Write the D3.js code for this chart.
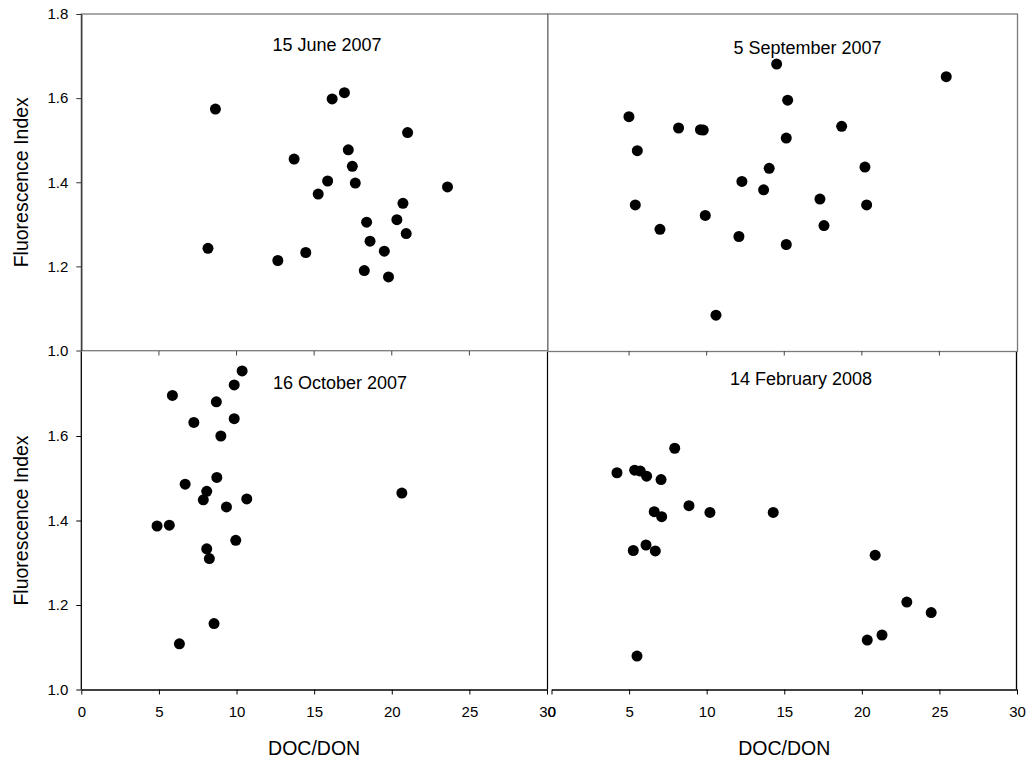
<!DOCTYPE html>
<html>
<head>
<meta charset="utf-8">
<script src="https://cdn.jsdelivr.net/npm/d3@7"></script>
<style>
  html, body { margin: 0; padding: 0; background: #fff; }
  svg { display: block; font-family: "Liberation Sans", Arial, sans-serif; }
</style>
</head>
<body>
<svg id="chart" width="1029" height="767"></svg>
<script>
// ---- Data (DOC/DON, Fluorescence Index) ----
const panelTitles = ["15 June 2007", "5 September 2007", "16 October 2007", "14 February 2008"];

const june2007 = [
  [8.64,1.574],[8.16,1.243],[16.16,1.598],[16.95,1.613],[21.02,1.518],[13.71,1.455],
  [17.20,1.477],[17.46,1.438],[15.87,1.403],[17.65,1.398],[15.26,1.372],[23.59,1.389],
  [20.72,1.350],[18.38,1.305],[20.33,1.311],[20.93,1.278],[18.60,1.260],[19.52,1.236],
  [12.66,1.214],[14.46,1.233],[18.23,1.190],[19.79,1.175]
];
const sep2007 = [
  [14.51,1.681],[25.44,1.651],[15.22,1.595],[4.99,1.556],[8.19,1.529],[9.60,1.525],
  [9.78,1.524],[18.70,1.533],[15.13,1.505],[5.53,1.475],[20.20,1.436],[14.03,1.433],
  [12.27,1.402],[13.67,1.382],[17.30,1.360],[5.40,1.346],[20.31,1.346],[9.91,1.321],
  [17.56,1.297],[6.99,1.288],[12.08,1.271],[15.13,1.252],[10.60,1.084]
];
const oct2007 = [
  [10.36,1.754],[9.85,1.721],[5.87,1.696],[8.70,1.681],[9.85,1.641],[7.25,1.632],
  [8.99,1.600],[8.73,1.502],[6.69,1.486],[8.08,1.469],[7.86,1.449],[10.66,1.451],
  [9.35,1.432],[20.65,1.465],[4.88,1.387],[5.67,1.389],[9.95,1.353],[8.08,1.333],
  [8.25,1.310],[8.55,1.156],[6.32,1.108]
];
const feb2008 = [
  [7.94,1.571],[4.22,1.513],[5.36,1.519],[5.72,1.517],[6.13,1.505],[7.06,1.497],
  [8.86,1.435],[10.21,1.419],[14.29,1.419],[6.62,1.421],[7.10,1.409],[5.27,1.329],
  [6.09,1.342],[6.69,1.328],[20.86,1.318],[22.90,1.207],[24.47,1.182],[20.35,1.117],
  [21.30,1.129],[5.51,1.079]
];

const xTicks = [0, 5, 10, 15, 20, 25, 30];
const yTicksTop = [1.0, 1.2, 1.4, 1.6, 1.8];
const yTicksBottom = [1.0, 1.2, 1.4, 1.6];
const xDomain = [0, 30];
const yDomain = [1.0, 1.8];
const xLabel = "DOC/DON";
const yLabel = "Fluorescence Index";

// ---- Layout ----
const svg = d3.select("#chart");
const colL = [81.3, 547], colR = [551.5, 1017];
const rowT = [350.5, 14], rowB = [689.5, 351.5];

const xL = d3.scaleLinear().domain(xDomain).range(colL);
const xR = d3.scaleLinear().domain(xDomain).range(colR);
const yT = d3.scaleLinear().domain(yDomain).range(rowT);
const yB = d3.scaleLinear().domain(yDomain).range(rowB);

const gray = "#7a7a7a";

// Frames
function frame(x0, x1, y0, y1, color) {
  svg.append("rect").attr("x", x0).attr("y", y0)
    .attr("width", x1 - x0).attr("height", y1 - y0)
    .attr("fill", "none").attr("stroke", color).attr("stroke-width", 1.3);
}
frame(81.3, 547.7, 14, 350.7, gray);
frame(547.7, 1017.5, 14, 351.5, gray);
// bottom panels black sides
svg.append("line").attr("x1", 547.5).attr("x2", 547.5).attr("y1", 352).attr("y2", 689.5).attr("stroke", "#000").attr("stroke-width", 1.2);
svg.append("line").attr("x1", 1016.5).attr("x2", 1016.5).attr("y1", 352).attr("y2", 689.5).attr("stroke", "#000").attr("stroke-width", 1.3);

// Inner ticks along the shared horizontal boundary
[xL, xR].forEach(xs => {
  svg.append("g").selectAll("line").data(xTicks.filter(t => t > 0 && t < 30)).join("line")
    .attr("x1", d => xs(d)).attr("x2", d => xs(d))
    .attr("y1", 351).attr("y2", 355.5)
    .attr("stroke", "#444").attr("stroke-width", 1);
});

// Axes
function styleAxis(g, color) {
  g.select(".domain").attr("stroke", color).attr("stroke-width", 1.3);
  g.selectAll(".tick line").attr("stroke", color);
  g.selectAll(".tick text").attr("fill", "#000").style("font-size", "15px")
    .style("font-family", '"Liberation Sans", Arial, sans-serif');
}
const fmtY = d3.format(".1f");

const gyT = svg.append("g").attr("transform", `translate(${colL[0]},0)`)
  .call(d3.axisLeft(yT).tickValues(yTicksTop).tickFormat(fmtY).tickSize(5).tickPadding(8).tickSizeOuter(0));
styleAxis(gyT, "#333");
const gyB = svg.append("g").attr("transform", `translate(${colL[0]},0)`)
  .call(d3.axisLeft(yB).tickValues(yTicksBottom).tickFormat(fmtY).tickSize(5).tickPadding(8).tickSizeOuter(0));
styleAxis(gyB, "#000");
gyB.select(".domain").attr("d", `M0,${rowB[0]}V${rowB[1]}`);

[xL, xR].forEach(xs => {
  const g = svg.append("g").attr("transform", `translate(0,${rowB[0]})`)
    .call(d3.axisBottom(xs).tickValues(xTicks).tickFormat(d3.format("d")).tickSize(5).tickPadding(12).tickSizeOuter(0));
  styleAxis(g, "#000");
});

// Axis titles
[rowT, rowB].forEach(r => {
  svg.append("text")
    .attr("transform", `translate(28,${(r[0] + r[1]) / 2}) rotate(-90)`)
    .attr("text-anchor", "middle").style("font-size", "19.5px").text(yLabel);
});
[colL, colR].forEach(c => {
  svg.append("text").attr("x", (c[0] + c[1]) / 2).attr("y", 755)
    .attr("text-anchor", "middle").style("font-size", "19.5px").text(xLabel);
});

// Panels
const panels = [
  { data: june2007, x: xL, y: yT, title: panelTitles[0], tx: 327, ty: 50.5 },
  { data: sep2007,  x: xR, y: yT, title: panelTitles[1], tx: 807.5, ty: 53.5 },
  { data: oct2007,  x: xL, y: yB, title: panelTitles[2], tx: 340, ty: 389 },
  { data: feb2008,  x: xR, y: yB, title: panelTitles[3], tx: 801, ty: 385 }
];
panels.forEach(p => {
  svg.append("g").selectAll("circle").data(p.data).join("circle")
    .attr("cx", d => p.x(d[0])).attr("cy", d => p.y(d[1]))
    .attr("r", 5.5).attr("fill", "#000");
  svg.append("text").attr("x", p.tx).attr("y", p.ty).attr("text-anchor", "middle")
    .style("font-size", "18px").text(p.title);
});
</script>
</body>
</html>
